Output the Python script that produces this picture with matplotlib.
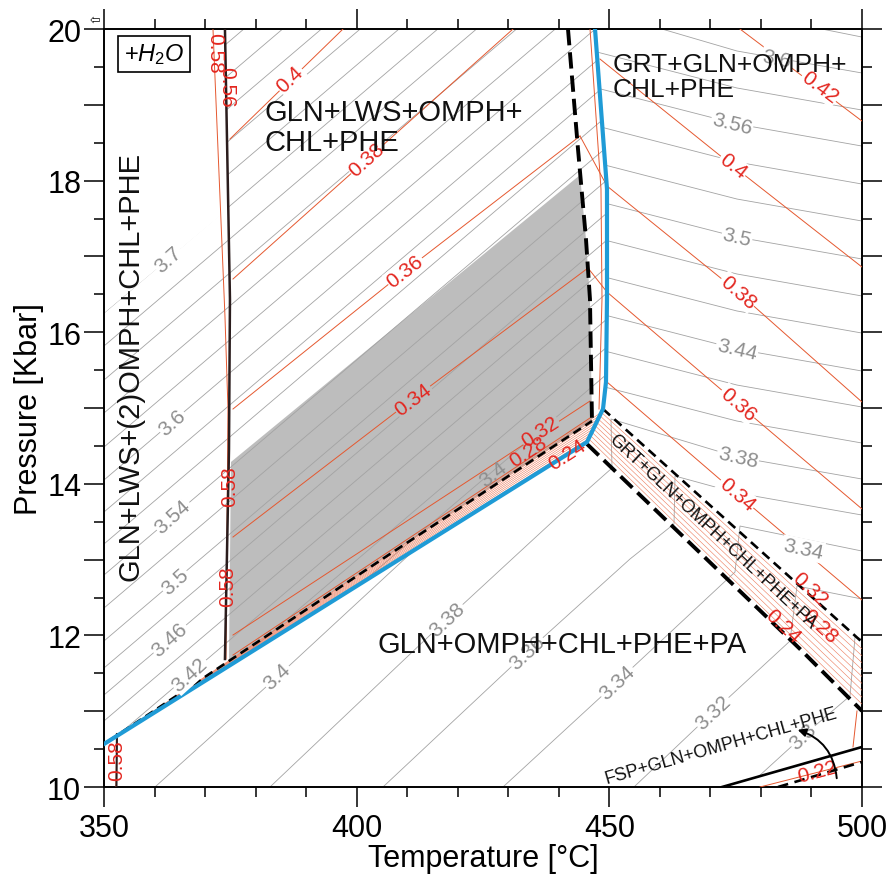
import matplotlib
matplotlib.use("Agg")
import matplotlib.pyplot as plt
from matplotlib.patches import Polygon
from matplotlib.ticker import MultipleLocator, FixedLocator, FuncFormatter

plt.rcParams['font.family'] = ['Liberation Sans', 'DejaVu Sans']
plt.rcParams['mathtext.fontset'] = 'custom'
plt.rcParams['mathtext.rm'] = 'Liberation Sans'
plt.rcParams['mathtext.it'] = 'Liberation Sans:italic'

# ---------------- axes ----------------
X_LIM = (350, 500)
Y_LIM = (10, 20)
X_MAJOR = [350, 400, 450, 500]
Y_MAJOR = [10, 11, 12, 13, 14, 15, 16, 17, 18, 19, 20]

# ---------------- phase boundaries (T degC, P kbar) ----------------
BLUE_T = [350.0, 445.58, 448.75, 449.34, 449.54, 449.54, 447.17]
BLUE_P = [10.567, 14.551, 14.987, 15.343, 16.438, 17.889, 20.0]

BLACK_LEFT_T = [373.94, 374.93, 374.74, 373.94]
BLACK_LEFT_P = [20.0, 16.438, 14.459, 11.689]
BLACK_BL_T = [352.47, 352.57]
BLACK_BL_P = [10.0, 10.699]

THICK_DASH_UP_T = [441.82, 443.80, 445.38, 446.17, 446.57]
THICK_DASH_UP_P = [20.0, 18.417, 17.230, 16.438, 14.828]
THIN_DASH_LL_T = [351.19, 406.60, 446.57]
THIN_DASH_LL_P = [10.620, 13.074, 14.828]
THICK_DASH_LR_T = [445.58, 487.73, 500.0]
THICK_DASH_LR_P = [14.525, 11.821, 11.003]
THIN_DASH_BAND_T = [448.75, 500.0]
THIN_DASH_BAND_P = [14.987, 11.913]
FSP_SOLID_T = [472.30, 500.0]
FSP_SOLID_P = [10.0, 10.528]
FSP_DASH_T = [483.38, 500.0]
FSP_DASH_P = [10.0, 10.330]

# shaded field
SHADE_T = [375.13, 444.20, 445.38, 446.17, 446.57, 406.60, 374.74]
SHADE_P = [14.288, 18.074, 17.230, 16.438, 14.828, 13.074, 11.662]

# upper-left limit of the isopleth field (left of the black line)
UL_EDGE_T = [373.94, 374.6, 350.0]
UL_EDGE_P = [20.0, 17.625, 16.253]

# ---------------- gray isopleths ----------------
# upper-left field: straight lines given by P at 350 and at 450 degC
GRAY_UL_P350 = [18.430, 17.995, 17.559, 17.124, 16.689, 16.253, 15.818, 15.369,
                14.934, 14.485, 14.050, 13.628, 13.206, 12.797, 12.361, 11.926,
                11.570, 11.214, 10.871, 10.528, 10.158, 9.802]
GRAY_UL_P450 = [24.103, 23.668, 23.232, 22.797, 22.361, 21.926, 21.491, 21.042,
                20.607, 20.158, 19.723, 19.301, 18.879, 18.470, 18.034, 17.599,
                17.243, 16.887, 16.544, 16.201, 15.831, 15.475]

# right field (GRT+GLN+OMPH+CHL+PHE)
GRAY_RIGHT = {
    3.62: [(492.09, 20.0), (500.0, 19.894)],
    3.60: [(460.42, 20.0), (475.27, 19.710), (500.0, 19.420)],
    3.58: [(446.0, 19.723), (475.27, 19.222), (500.0, 18.931)],
    3.56: [(446.0, 19.248), (475.27, 18.747), (500.0, 18.456)],
    3.54: [(446.0, 18.747), (475.27, 18.245), (500.0, 17.955)],
    3.52: [(446.0, 18.259), (475.27, 17.757), (500.0, 17.467)],
    3.50: [(446.0, 17.757), (475.27, 17.256), (500.0, 16.966)],
    3.48: [(446.0, 17.269), (475.27, 16.768), (500.0, 16.478)],
    3.46: [(446.0, 16.781), (475.27, 16.280), (500.0, 15.989)],
    3.44: [(446.0, 16.280), (475.27, 15.778), (500.0, 15.488)],
    3.42: [(446.0, 15.805), (475.27, 15.303), (500.0, 15.013)],
    3.40: [(446.0, 15.330), (475.27, 14.828), (500.0, 14.538)],
}
# lower field continuing through the narrow band into the right field
GRAY_LOWER = {
    3.40: [(360.09, 10.0), (384.24, 11.451), (410.55, 13.074)],
    3.38: [(382.85, 10.0), (417.88, 12.216), (443.60, 13.799), (450.53, 14.208),
           (450.33, 14.855), (475.27, 14.354), (500.0, 14.063)],
    3.36: [(405.21, 10.0), (433.71, 11.781), (454.09, 13.008), (462.80, 13.470),
           (463.00, 14.103), (475.27, 13.879), (500.0, 13.588)],
    3.34: [(428.96, 10.0), (451.52, 11.385), (474.87, 12.836), (475.86, 13.443),
           (500.0, 13.113)],
    3.32: [(454.88, 10.0), (470.51, 10.989), (485.75, 11.926), (487.14, 12.652),
           (500.0, 12.480)],
    3.30: [(479.42, 10.132), (488.32, 10.673), (497.63, 11.201), (498.62, 11.979),
           (500.0, 11.953)],
}

# ---------------- red isopleths ----------------
RED_LEFT = {
    0.40: [(374.93, 18.549), (397.30, 20.0)],
    0.38: [(375.53, 16.702), (430.94, 20.0)],
    0.36: [(375.53, 14.987), (409.57, 16.807), (444.20, 18.588)],
    0.34: [(375.53, 13.298), (411.15, 15.119), (445.78, 16.847)],
    0.32: [(375.53, 12.005), (446.17, 15.092)],
    0.30: [(375.53, 11.741), (446.17, 14.868)],
}
RED_RIGHT = {
    0.42: [(475.86, 20.0), (500.0, 18.786)],
    0.40: [(448.15, 19.604), (474.47, 18.193), (500.0, 16.860)],
    0.38: [(444.20, 18.588), (449.54, 17.929), (475.46, 16.530), (500.0, 15.079)],
    0.36: [(445.78, 16.847), (449.54, 16.530), (475.46, 15.053), (500.0, 13.668)],
    0.34: [(449.54, 15.343), (475.27, 13.865), (500.0, 12.467)],
}
RED_NEAR_BLACK = [(371.57, 20.0), (372.56, 18.417), (373.94, 16.214), (374.54, 14.987), (374.14, 11.689)]
RED_NEAR_BLUE = [(446.18, 20.0), (448.35, 17.889), (448.55, 16.438), (447.96, 14.987)]
RED_BOTTOM_LEFT = [(352.37, 10.0), (352.57, 10.63)]
RED_022 = [(479.82, 10.0), (500.0, 10.343)]
RED_EDGE = [(499.01, 11.003), (498.22, 10.528)]
# narrow strip + band (0.24 ... 0.32)
STRIP_START = (351.19, 10.62)
STRIP_JOIN_T = [445.90, 446.21, 446.53, 446.85, 447.16, 447.48, 447.80, 448.11, 448.43]
STRIP_JOIN_P = [14.595, 14.639, 14.682, 14.726, 14.769, 14.813, 14.856, 14.900, 14.943]
BAND_END_P = [11.094, 11.185, 11.276, 11.367, 11.458, 11.549, 11.640, 11.731, 11.822]

# ---------------- labels ----------------
RED_LAB_TXT = ['0.4', '0.38', '0.36', '0.34', '0.32', '0.28', '0.24',
               '0.42', '0.4', '0.38', '0.36', '0.34', '0.32', '0.28', '0.24', '0.22']
RED_LAB_T = [386.81, 402.05, 409.57, 411.15, 436.28, 433.91, 441.62,
             491.69, 474.47, 475.46, 475.46, 475.27, 489.71, 491.69, 484.37, 491.10]
RED_LAB_P = [19.34, 18.285, 16.807, 15.119, 14.697, 14.433, 14.393,
             19.235, 18.193, 16.530, 15.053, 13.865, 12.612, 12.124, 12.124, 10.211]
RED_LAB_ROT = [44, 42, 38, 37, 33, 33, 33, -37, -38, -41, -41, -41, -43, -43, -43, 15]
RED_LAB_BG = ['w', 'w', 'w', 'g', 'g', None, None, 'w', 'w', 'w', 'w', 'w', None, None, None, None]

VRED_TXT = ['0.58', '0.56', '0.58', '0.58', '0.58']
VRED_T = [371.97, 374.34, 374.93, 374.54, 352.57]
VRED_P = [19.697, 19.248, 13.971, 12.652, 10.356]
VRED_ROT = [-90, -90, 90, 90, 90]

GRAY_LAB_TXT = ['3.7', '3.6', '3.54', '3.5', '3.46', '3.42', '3.4', '3.4', '3.38', '3.36',
                '3.34', '3.32', '3.3', '3.6', '3.56', '3.5', '3.44', '3.38', '3.34']
GRAY_LAB_T = [362.66, 363.46, 363.65, 364.05, 363.06, 367.02, 426.98, 384.24, 417.88, 433.71,
              451.52, 470.51, 488.32, 483.18, 474.27, 475.27, 475.27, 475.46, 488.32]
GRAY_LAB_P = [16.966, 14.815, 13.575, 12.718, 11.953, 11.491, 14.129, 11.464, 12.216, 11.781,
              11.385, 10.989, 10.673, 19.604, 18.747, 17.256, 15.778, 14.354, 13.140]
GRAY_LAB_ROT = [42, 42, 42, 42, 42, 42, 38, 43, 43, 43, 43, 43, 43, -12, -14, -13, -13, -13, -12]
GRAY_LAB_BG = ['w', 'w', 'w', 'w', 'w', 'w', None, 'w', 'w', 'w', 'w', 'w', 'w',
               'w', 'w', 'w', 'w', 'w', 'w']

REGION_TXT = ['GLN+LWS+OMPH+\nCHL+PHE', 'GRT+GLN+OMPH+\nCHL+PHE', 'GLN+OMPH+CHL+PHE+PA',
              'GLN+LWS+(2)OMPH+CHL+PHE', 'GRT+GLN+OMPH+CHL+PHE+PA', 'FSP+GLN+OMPH+CHL+PHE']
REGION_T = [381.86, 450.73, 404.22, 355.34, 470.32, 472.10]
REGION_P = [18.707, 19.37, 11.887, 15.567, 13.377, 10.554]
REGION_SIZE = [21, 19, 21, 21, 13, 13]
REGION_ROT = [0, 0, 0, 90, -43, 16]
REGION_HA = ['left', 'left', 'left', 'center', 'center', 'center']

ARROW_FROM = (495.05, 10.079)
ARROW_TO = (486.74, 10.765)
H2O_POS = (359.89, 19.67)

# ---------------- style ----------------
BLUE_C = '#1f9bd6'
SHADE_C = '#bdbdbd'
GRAY_LINE = '#a3a3a3'
RED_LINE = '#e5582f'
RED_BAND = '#ec7a5a'
RED_TEXT = '#e3261f'
GRAY_TEXT = '#8e8e8e'
BG = {'w': 'white', 'g': SHADE_C}


def xy(seq):
    return [p[0] for p in seq], [p[1] for p in seq]


fig = plt.figure(figsize=(8.94, 8.78), dpi=100)
ax = fig.add_axes([0.1163, 0.1025, 0.8479, 0.8633])
ax.set_xlim(*X_LIM)
ax.set_ylim(*Y_LIM)

# shaded field
ax.add_patch(Polygon(list(zip(SHADE_T, SHADE_P)), closed=True, fc=SHADE_C, ec='none', zorder=1))

# clip regions
clip_ul = Polygon(list(zip(BLUE_T, BLUE_P)) + list(zip(UL_EDGE_T, UL_EDGE_P)),
                  closed=True, transform=ax.transData, fc='none', ec='none')
clip_r = Polygon(list(zip(BLUE_T[2:], BLUE_P[2:])) + [(X_LIM[1], Y_LIM[1]),
                 (THIN_DASH_BAND_T[1], THIN_DASH_BAND_P[1])],
                 closed=True, transform=ax.transData, fc='none', ec='none')

for p0, p1 in zip(GRAY_UL_P350, GRAY_UL_P450):
    ln, = ax.plot([350, 450], [p0, p1], color=GRAY_LINE, lw=0.6, zorder=2)
    ln.set_clip_path(clip_ul)
for v, seq in GRAY_RIGHT.items():
    t, p = xy(seq)
    ln, = ax.plot(t, p, color=GRAY_LINE, lw=0.6, zorder=2)
    ln.set_clip_path(clip_r)
for v, seq in GRAY_LOWER.items():
    t, p = xy(seq)
    ax.plot(t, p, color=GRAY_LINE, lw=0.6, zorder=2)

# red isopleths
for grp in (RED_LEFT, RED_RIGHT):
    for v, seq in grp.items():
        t, p = xy(seq)
        ax.plot(t, p, color=RED_LINE, lw=0.7, zorder=3)
for seq in (RED_NEAR_BLACK, RED_NEAR_BLUE, RED_BOTTOM_LEFT, RED_022, RED_EDGE):
    t, p = xy(seq)
    ax.plot(t, p, color=RED_LINE, lw=0.7, zorder=3)
for jt, jp, ep in zip(STRIP_JOIN_T, STRIP_JOIN_P, BAND_END_P):
    ax.plot([STRIP_START[0], jt, X_LIM[1]], [STRIP_START[1], jp, ep],
            color=RED_BAND, lw=0.4, zorder=3)

# black boundaries
ax.plot(BLACK_LEFT_T, BLACK_LEFT_P, color='#2b1d1d', lw=1.8, zorder=4)
ax.plot(BLACK_BL_T, BLACK_BL_P, color='#2b1d1d', lw=1.5, zorder=4)
ax.plot(THICK_DASH_UP_T, THICK_DASH_UP_P, color='black', lw=2.8, dashes=(4.2, 1.8), zorder=4)
ax.plot(THICK_DASH_LR_T, THICK_DASH_LR_P, color='black', lw=2.8, dashes=(4.2, 1.8), zorder=4)
ax.plot(THIN_DASH_LL_T, THIN_DASH_LL_P, color='black', lw=1.9, dashes=(3.4, 2.0), zorder=4)
ax.plot(THIN_DASH_BAND_T, THIN_DASH_BAND_P, color='black', lw=1.9, dashes=(3.6, 2.2), zorder=4)
ax.plot(FSP_SOLID_T, FSP_SOLID_P, color='black', lw=1.9, zorder=4)
ax.plot(FSP_DASH_T, FSP_DASH_P, color='black', lw=1.9, dashes=(4, 2.5), zorder=4)
ax.plot(BLUE_T, BLUE_P, color=BLUE_C, lw=3.0, zorder=5, solid_joinstyle='miter')

# contour labels
for s, t, p, r, bg in zip(RED_LAB_TXT, RED_LAB_T, RED_LAB_P, RED_LAB_ROT, RED_LAB_BG):
    kw = {}
    if bg:
        kw['bbox'] = dict(boxstyle='square,pad=0.05', fc=BG[bg], ec='none')
    ax.text(t, p, s, color=RED_TEXT, fontsize=15, rotation=r, ha='center', va='center',
            rotation_mode='anchor', zorder=6, **kw)
for s, t, p, r in zip(VRED_TXT, VRED_T, VRED_P, VRED_ROT):
    ax.text(t, p, s, color=RED_TEXT, fontsize=15, rotation=r, ha='center', va='center',
            rotation_mode='anchor', zorder=6)
for s, t, p, r, bg in zip(GRAY_LAB_TXT, GRAY_LAB_T, GRAY_LAB_P, GRAY_LAB_ROT, GRAY_LAB_BG):
    kw = {}
    if bg:
        kw['bbox'] = dict(boxstyle='square,pad=0.05', fc=BG[bg], ec='none')
    ax.text(t, p, s, color=GRAY_TEXT, fontsize=15, rotation=r, ha='center', va='center',
            rotation_mode='anchor', zorder=6, **kw)

# field names
for s, t, p, fs, r, ha in zip(REGION_TXT, REGION_T, REGION_P, REGION_SIZE, REGION_ROT, REGION_HA):
    ax.text(t, p, s, fontsize=fs, rotation=r, ha=ha, va='center', rotation_mode='anchor',
            multialignment='left', linespacing=1.05, color='#111111', zorder=7)

ax.annotate('', xy=ARROW_TO, xytext=ARROW_FROM,
            arrowprops=dict(arrowstyle='-|>', connectionstyle='arc3,rad=0.35', lw=1.4,
                            color='black', mutation_scale=12), zorder=7)

ax.text(H2O_POS[0], H2O_POS[1], r'$+H_2O$', fontsize=17, ha='center', va='center', zorder=7,
        bbox=dict(boxstyle='square,pad=0.25', fc='white', ec='black', lw=1.2))

# axes styling
ax.xaxis.set_major_locator(FixedLocator(X_MAJOR))
ax.xaxis.set_minor_locator(MultipleLocator(10))
ax.yaxis.set_major_locator(FixedLocator(Y_MAJOR))
ax.yaxis.set_minor_locator(MultipleLocator(0.5))
ax.yaxis.set_major_formatter(FuncFormatter(lambda v, pos: '%d' % v if int(round(v)) % 2 == 0 else ''))
ax.tick_params(which='both', direction='out', top=True, right=True, width=1.1,
               labelsize=22, pad=2)
ax.tick_params(axis='x', which='major', pad=4)
ax.tick_params(which='major', length=14.4)
ax.tick_params(which='minor', length=7.2)
for sp in ax.spines.values():
    sp.set_linewidth(1.4)
ax.set_xlabel('Temperature [°C]', fontsize=22, labelpad=0)
ax.set_ylabel('Pressure [Kbar]', fontsize=22, labelpad=2)

fig.text(0.1063, 0.9772, '\u21e6', fontsize=9, ha='center', va='center', family='DejaVu Sans')

fig.savefig('out.png', dpi=100)
